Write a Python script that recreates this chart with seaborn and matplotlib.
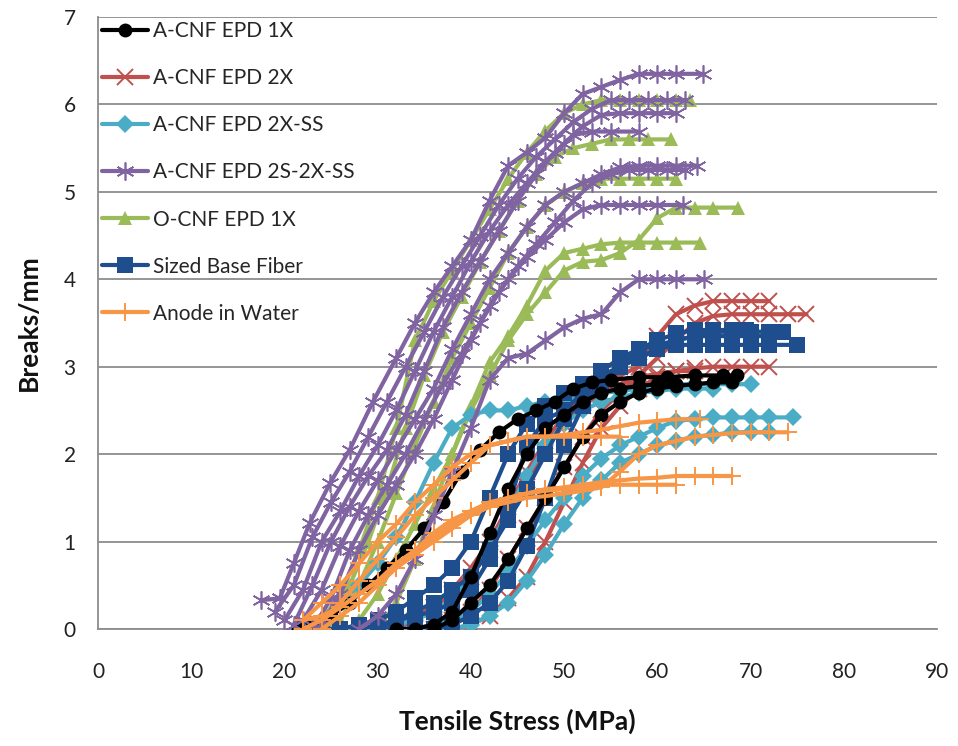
import numpy as np
import pandas as pd
import matplotlib
matplotlib.use("Agg")
import matplotlib.pyplot as plt
from matplotlib.lines import Line2D
import seaborn as sns

# ---------------- data ----------------
series_names = ["A-CNF EPD 1X", "A-CNF EPD 2X", "A-CNF EPD 2X-SS",
                "A-CNF EPD 2S-2X-SS", "O-CNF EPD 1X", "Sized Base Fiber",
                "Anode in Water"]

# A-CNF EPD 1X (black, circles)
black_x = [
    [21.5, 23, 25, 27, 29, 31, 33, 35, 37, 39, 41, 43, 45, 47, 49, 51, 53, 55, 58, 61, 64, 67, 68.5],
    [36, 38, 40, 42, 44, 46, 48, 50, 52, 54, 56, 58, 60, 62, 64, 66, 68],
    [32, 34, 36, 38, 40, 42, 44, 46, 48, 50, 52, 54, 56, 58, 60, 62],
]
black_y = [
    [0.0, 0.05, 0.15, 0.3, 0.5, 0.7, 0.9, 1.15, 1.45, 1.8, 2.05, 2.25, 2.4, 2.5, 2.6, 2.75, 2.82, 2.85, 2.88, 2.88, 2.9, 2.9, 2.9],
    [0.0, 0.1, 0.3, 0.5, 0.8, 1.15, 1.5, 1.85, 2.2, 2.45, 2.6, 2.7, 2.75, 2.78, 2.8, 2.82, 2.82],
    [0.0, 0.0, 0.05, 0.2, 0.6, 1.1, 1.6, 2.0, 2.3, 2.45, 2.6, 2.7, 2.75, 2.78, 2.8, 2.8],
]

# A-CNF EPD 2X (red, x)
red_x = [
    [30, 33, 36, 38, 40, 42, 44, 46, 48, 50, 52, 54, 56, 58, 60, 62, 64, 66, 68, 70, 72],
    [34, 36, 38, 40, 42, 44, 46, 48, 50, 52, 54, 56, 58, 60, 62, 64, 66, 68, 70, 72, 74, 76],
    [36, 38, 40, 42, 44, 46, 48, 50, 52, 54, 56, 58, 60, 62, 64, 66, 68, 70, 72],
    [32, 34, 36, 38, 40, 42, 44, 46, 48, 50, 52, 54, 56, 58, 60, 62, 64],
]
red_y = [
    [0.0, 0.1, 0.25, 0.45, 0.7, 1.0, 1.4, 1.8, 2.15, 2.45, 2.65, 2.8, 2.9, 3.0, 3.35, 3.6, 3.7, 3.75, 3.75, 3.75, 3.75],
    [0.0, 0.05, 0.1, 0.2, 0.45, 0.8, 1.15, 1.5, 1.85, 2.2, 2.5, 2.7, 2.9, 3.1, 3.3, 3.5, 3.58, 3.6, 3.6, 3.6, 3.6, 3.6],
    [0.0, 0.0, 0.05, 0.15, 0.35, 0.6, 1.0, 1.45, 1.9, 2.3, 2.55, 2.75, 2.88, 2.95, 2.98, 3.0, 3.0, 3.0, 3.0],
    [0.0, 0.1, 0.25, 0.4, 0.6, 0.9, 1.3, 1.7, 2.05, 2.35, 2.55, 2.7, 2.8, 2.88, 2.92, 2.95, 2.95],
]

# A-CNF EPD 2X-SS (cyan, diamonds)
cyan_x = [
    [22, 24, 26, 28, 30, 32, 34, 36, 38, 40, 42, 44, 46, 48, 50, 52, 54, 56, 58, 60, 62, 64, 66, 68, 70],
    [34, 36, 38, 40, 42, 44, 46, 48, 50, 52, 54, 56, 58, 60, 62, 64, 66, 68, 70, 72, 74.5],
    [38, 40, 42, 44, 46, 48, 50, 52, 54, 56, 58, 60, 62, 64, 66, 68, 70, 72],
    [30, 32, 34, 36, 38, 40, 42, 44, 46, 48, 50, 52, 54, 56, 58, 60, 62, 64, 66],
]
cyan_y = [
    [0.0, 0.1, 0.3, 0.5, 0.75, 1.05, 1.45, 1.9, 2.3, 2.45, 2.5, 2.5, 2.55, 2.6, 2.62, 2.68, 2.7, 2.72, 2.75, 2.78, 2.8, 2.8, 2.8, 2.8, 2.8],
    [0.0, 0.05, 0.1, 0.2, 0.4, 0.65, 0.95, 1.25, 1.5, 1.75, 1.95, 2.1, 2.2, 2.3, 2.38, 2.4, 2.42, 2.42, 2.42, 2.42, 2.42],
    [0.0, 0.05, 0.15, 0.3, 0.55, 0.85, 1.2, 1.5, 1.7, 1.9, 2.0, 2.1, 2.15, 2.2, 2.22, 2.25, 2.25, 2.25],
    [0.0, 0.05, 0.1, 0.2, 0.35, 0.6, 0.95, 1.35, 1.75, 2.1, 2.35, 2.5, 2.6, 2.65, 2.7, 2.72, 2.75, 2.75, 2.75],
]

# A-CNF EPD 2S-2X-SS (purple, asterisks)
purple_x = [
    [17.5, 19.5, 21, 22.7, 24.9, 27, 29.5, 32, 34, 36, 38, 40, 42, 44, 46, 48, 50, 52, 54, 56, 58, 60, 62, 64.9],
    [19, 21, 23, 25, 27, 29, 31, 33, 35, 37, 39, 41, 43, 45, 47, 49, 51, 53, 55, 57, 59, 61, 63],
    [20, 22, 24, 26, 28, 30, 32, 34, 36, 38, 40, 42, 44, 46, 48, 50, 52, 54, 56, 58, 60, 62],
    [21, 23, 25, 27, 29, 31, 33, 35, 37, 39, 41, 43, 45, 47, 49, 51, 53, 55, 58],
    [22, 24, 26, 28, 30, 32, 34, 36, 38, 40, 42, 44, 46, 48, 50, 52, 54, 56, 58, 60, 62, 64.3],
    [23, 25, 27, 29, 31, 33, 35, 37, 39, 41, 43, 45, 47, 49, 51, 53, 55, 57, 59, 61, 63],
    [24, 26, 28, 30, 32, 34, 36, 38, 40, 42, 44, 46, 48, 50, 52, 54, 56, 58, 60, 62.8],
    [28, 30, 32, 34, 36, 38, 40, 42, 44, 46, 48, 50, 52, 54, 56, 58, 60, 62, 65],
]
purple_y = [
    [0.33, 0.35, 0.75, 1.21, 1.67, 2.05, 2.6, 3.1, 3.5, 3.85, 4.15, 4.45, 4.9, 5.3, 5.45, 5.62, 5.9, 6.12, 6.2, 6.28, 6.35, 6.35, 6.35, 6.35],
    [0.2, 0.5, 1.05, 1.45, 1.8, 2.2, 2.6, 3.0, 3.4, 3.8, 4.15, 4.5, 4.85, 5.15, 5.4, 5.6, 5.8, 5.95, 6.05, 6.05, 6.05, 6.05, 6.05],
    [0.1, 0.45, 1.0, 1.35, 1.75, 2.1, 2.5, 2.95, 3.4, 3.8, 4.2, 4.55, 4.85, 5.1, 5.35, 5.55, 5.75, 5.88, 5.9, 5.9, 5.9, 5.9],
    [0.05, 0.5, 1.0, 1.4, 1.75, 2.05, 2.45, 2.95, 3.45, 3.85, 4.2, 4.55, 4.9, 5.2, 5.45, 5.65, 5.69, 5.69, 5.69],
    [0.1, 0.45, 0.95, 1.35, 1.7, 2.05, 2.4, 2.75, 3.2, 3.6, 4.0, 4.3, 4.6, 4.85, 5.0, 5.1, 5.2, 5.28, 5.3, 5.3, 5.3, 5.3],
    [0.0, 0.35, 0.9, 1.3, 1.65, 2.0, 2.4, 2.8, 3.15, 3.5, 3.85, 4.15, 4.4, 4.65, 4.9, 5.1, 5.2, 5.25, 5.25, 5.25, 5.25],
    [0.05, 0.4, 0.9, 1.3, 1.65, 2.0, 2.4, 2.85, 3.3, 3.7, 4.0, 4.25, 4.45, 4.65, 4.8, 4.85, 4.85, 4.85, 4.85, 4.85],
    [0.0, 0.15, 0.4, 0.8, 1.3, 1.8, 2.3, 2.85, 3.1, 3.15, 3.3, 3.45, 3.55, 3.6, 3.85, 4.0, 4.0, 4.0, 4.0],
]

# O-CNF EPD 1X (green, triangles)
green_x = [
    [24, 26, 28, 30, 32, 34, 36, 38, 40, 42, 44, 46, 48, 50, 52, 54, 56, 58, 60, 62, 63.5],
    [25, 27, 29, 31, 33, 35, 37, 39, 41, 43, 45, 47, 49, 51, 53, 55, 57, 59, 61.5],
    [26, 28, 30, 32, 34, 36, 38, 40, 42, 44, 46, 48, 50, 52, 54, 56, 58, 60, 62],
    [28, 30, 32, 34, 36, 38, 40, 42, 44, 46, 48, 50, 52, 54, 56, 58, 60, 62, 64, 66, 68.6],
    [30, 32, 34, 36, 38, 40, 42, 44, 46, 48, 50, 52, 54, 56, 58, 60, 62, 64.6],
]
green_y = [
    [0.1, 0.4, 0.9, 1.5, 2.3, 3.3, 3.75, 4.1, 4.45, 4.8, 5.15, 5.45, 5.7, 5.9, 6.0, 6.05, 6.05, 6.05, 6.05, 6.05, 6.05],
    [0.1, 0.5, 1.0, 1.6, 2.3, 2.9, 3.4, 3.8, 4.2, 4.55, 4.9, 5.2, 5.4, 5.5, 5.55, 5.6, 5.6, 5.6, 5.6],
    [0.1, 0.5, 1.0, 1.55, 2.1, 2.6, 3.1, 3.5, 3.9, 4.3, 4.6, 4.85, 5.0, 5.1, 5.15, 5.15, 5.15, 5.15, 5.15],
    [0.1, 0.4, 0.8, 1.2, 1.6, 2.0, 2.5, 2.9, 3.3, 3.6, 3.85, 4.1, 4.2, 4.22, 4.3, 4.45, 4.7, 4.82, 4.82, 4.82, 4.82],
    [0.0, 0.3, 0.8, 1.4, 2.0, 2.55, 3.05, 3.35, 3.7, 4.1, 4.3, 4.35, 4.4, 4.42, 4.42, 4.42, 4.42, 4.42],
]

# Sized Base Fiber (dark blue, squares)
blue_x = [
    [24, 26, 28, 30, 32, 34, 36, 38, 40, 42, 44, 46, 48, 50, 52, 54, 56, 58, 60, 62, 64, 66, 68, 70, 72, 73.5],
    [28, 30, 32, 34, 36, 38, 40, 42, 44, 46, 48, 50, 52, 54, 56, 58, 60, 62, 64, 66, 68, 70, 72, 75],
    [22, 24, 26, 28, 30, 32, 34, 36, 38, 40, 42, 44, 46, 48, 50, 52, 54, 56, 58, 60, 62, 64, 66, 68, 69.5],
    [30, 32, 34, 36, 38, 40, 42, 44, 46, 48, 50, 52, 54, 56, 58, 60, 62, 64, 66, 68, 70, 72],
]
blue_y = [
    [0.0, 0.0, 0.05, 0.1, 0.2, 0.35, 0.5, 0.7, 1.0, 1.5, 2.0, 2.35, 2.55, 2.7, 2.8, 2.9, 3.0, 3.2, 3.25, 3.3, 3.35, 3.4, 3.4, 3.4, 3.4, 3.4],
    [0.0, 0.0, 0.1, 0.2, 0.3, 0.45, 0.6, 0.9, 1.25, 1.6, 2.0, 2.4, 2.6, 2.8, 3.0, 3.1, 3.2, 3.25, 3.25, 3.25, 3.25, 3.25, 3.25, 3.25],
    [0.0, 0.0, 0.0, 0.0, 0.05, 0.1, 0.15, 0.2, 0.3, 0.45, 0.8, 1.4, 2.1, 2.4, 2.5, 2.7, 2.95, 3.1, 3.2, 3.3, 3.38, 3.42, 3.42, 3.42, 3.42],
    [0.0, 0.0, 0.0, 0.0, 0.05, 0.15, 0.3, 0.55, 0.95, 1.5, 2.1, 2.55, 2.85, 3.0, 3.1, 3.2, 3.3, 3.35, 3.35, 3.35, 3.35, 3.35],
]

# Anode in Water (orange, plus)
orange_x = [
    [24, 26, 28, 30, 32, 34, 36, 38, 40, 42, 44, 46, 48, 50, 52, 54, 56, 58, 60, 62, 64.6],
    [22, 24, 26, 28, 30, 32, 34, 36, 38, 40, 42, 44, 46, 48, 50, 52, 54, 56, 58, 60, 62, 64, 66, 68, 70, 72, 74],
    [22, 24, 26, 28, 30, 32, 34, 36, 38, 40, 42, 44, 46, 48, 50, 52, 54, 56, 58, 60, 62, 64, 66, 68],
    [24, 26, 28, 30, 32, 34, 36, 38, 40, 42, 44, 46, 48, 50, 52, 54, 56, 58, 60, 62],
    [22, 24, 26, 28, 30, 32, 34, 36, 38, 40, 42, 44, 46, 48, 50, 52, 54, 56],
]
orange_y = [
    [0.1, 0.3, 0.55, 0.8, 1.05, 1.3, 1.5, 1.7, 1.9, 2.1, 2.15, 2.2, 2.2, 2.22, 2.25, 2.28, 2.32, 2.36, 2.38, 2.4, 2.4],
    [0.1, 0.15, 0.25, 0.4, 0.55, 0.7, 0.85, 1.0, 1.15, 1.3, 1.4, 1.45, 1.5, 1.52, 1.55, 1.58, 1.62, 1.8, 2.0, 2.1, 2.15, 2.2, 2.22, 2.24, 2.25, 2.25, 2.25],
    [0.0, 0.1, 0.25, 0.4, 0.55, 0.75, 0.9, 1.05, 1.2, 1.3, 1.4, 1.5, 1.55, 1.6, 1.62, 1.65, 1.68, 1.7, 1.72, 1.73, 1.75, 1.75, 1.75, 1.75],
    [0.0, 0.15, 0.3, 0.5, 0.7, 0.9, 1.1, 1.25, 1.35, 1.45, 1.5, 1.55, 1.58, 1.6, 1.62, 1.65, 1.65, 1.65, 1.65, 1.65],
    [0.1, 0.3, 0.5, 0.75, 1.0, 1.2, 1.45, 1.65, 1.85, 2.0, 2.1, 2.15, 2.2, 2.2, 2.2, 2.2, 2.2, 2.2],
]

x_ticks = [0, 10, 20, 30, 40, 50, 60, 70, 80, 90]
y_ticks = [0, 1, 2, 3, 4, 5, 6, 7]

# ---------------- build long table ----------------
all_x = [black_x, red_x, cyan_x, purple_x, green_x, blue_x, orange_x]
all_y = [black_y, red_y, cyan_y, purple_y, green_y, blue_y, orange_y]
rows = []
for name, xs, ys in zip(series_names, all_x, all_y):
    for r, (cx, cy) in enumerate(zip(xs, ys)):
        for xv, yv in zip(cx, cy):
            rows.append((name, f"{name}-{r}", xv, yv))
df = pd.DataFrame(rows, columns=["series", "rep", "stress", "breaks"])

# ---------------- styles ----------------
ASTER = (6, 2, 0)
styles = {
    "A-CNF EPD 1X":       dict(color="#000000", marker="o", ms=10, mew=0),
    "A-CNF EPD 2X":       dict(color="#C0504D", marker="x", ms=11, mew=1.4),
    "A-CNF EPD 2X-SS":    dict(color="#4BACC6", marker="D", ms=9.5, mew=0),
    "A-CNF EPD 2S-2X-SS": dict(color="#8064A2", marker=ASTER, ms=13, mew=1.2),
    "O-CNF EPD 1X":       dict(color="#9BBB59", marker="^", ms=10.5, mew=0),
    "Sized Base Fiber":   dict(color="#1F4E8F", marker="s", ms=12, mew=0),
    "Anode in Water":     dict(color="#F79646", marker="+", ms=13, mew=1.4),
}
draw_order = ["O-CNF EPD 1X", "A-CNF EPD 2X", "A-CNF EPD 2X-SS", "Sized Base Fiber",
              "A-CNF EPD 1X", "A-CNF EPD 2S-2X-SS", "Anode in Water"]

sns.set_theme(style="white")
plt.rcParams["font.family"] = ["Lato", "DejaVu Sans"]

fig = plt.figure(figsize=(9.58, 7.46), dpi=100)
ax = fig.add_axes([98 / 958, 1 - 629 / 746, (937 - 98) / 958, (629 - 17) / 746])

LW = 3.0
for z, name in enumerate(draw_order):
    st = styles[name]
    sub = df[df["series"] == name]
    sns.lineplot(data=sub, x="stress", y="breaks", units="rep", estimator=None,
                 sort=False, color=st["color"], marker=st["marker"],
                 markersize=st["ms"], markeredgewidth=st["mew"],
                 markeredgecolor=st["color"], linewidth=LW, ax=ax,
                 legend=False, zorder=3 + z)

ax.set_xlim(0, 90)
ax.set_ylim(0, 7)
ax.set_xticks(x_ticks)
ax.set_yticks(y_ticks)
ax.yaxis.grid(True, color="#8C8C8C", linewidth=1.3, zorder=0)
ax.xaxis.grid(False)
ax.set_axisbelow(True)
for side in ["top", "right"]:
    ax.spines[side].set_visible(False)
for side in ["left", "bottom"]:
    ax.spines[side].set_color("#8C8C8C")
    ax.spines[side].set_linewidth(1.3)
ax.tick_params(axis="x", length=0, pad=24, labelsize=15, labelcolor="#222222")
ax.tick_params(axis="y", length=0, pad=16, labelsize=15, labelcolor="#222222")

ax.set_xlabel("Tensile Stress (MPa)", fontsize=19, fontweight="bold", color="#111111")
ax.set_ylabel("Breaks/mm", fontsize=19, fontweight="bold", color="#111111")
ax.xaxis.set_label_coords(0.5, -0.13)
ax.yaxis.set_label_coords(-0.068, 0.5)

handles = []
for name in series_names:
    st = styles[name]
    handles.append(Line2D([0], [0], color=st["color"], marker=st["marker"],
                          markersize=st["ms"], markeredgewidth=st["mew"],
                          markeredgecolor=st["color"], linewidth=LW))
leg = ax.legend(handles, series_names, loc="upper left", bbox_to_anchor=(0.0, 1.0),
                frameon=False, fontsize=15, handlelength=2.2, handletextpad=0.25,
                labelspacing=1.3, borderaxespad=0.0, borderpad=0.2)
leg.set_zorder(20)

fig.savefig("out.png", dpi=100)
